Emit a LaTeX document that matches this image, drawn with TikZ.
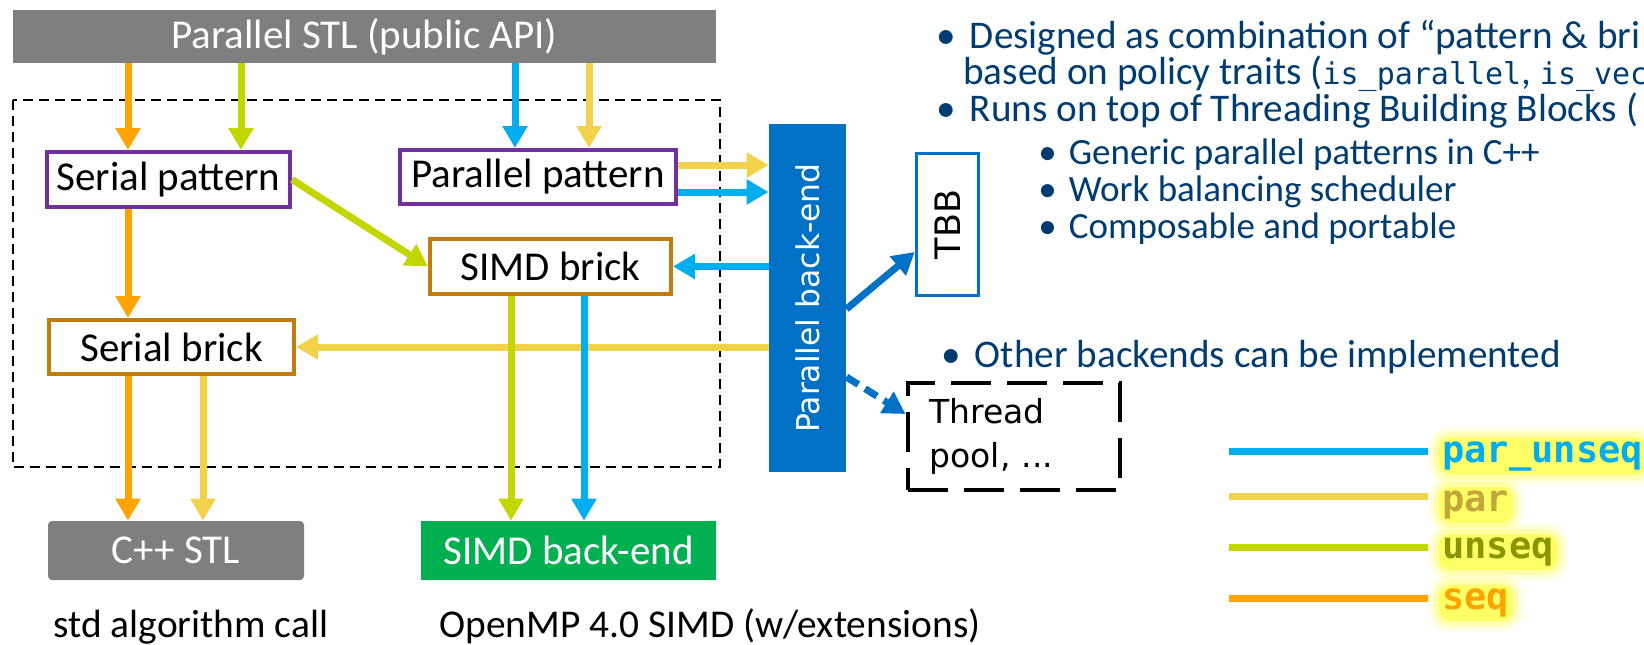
\documentclass[tikz,border=0pt]{standalone}
\usepackage{fontspec}
\setmainfont{Carlito}
\newfontfamily\verdfont{DejaVu Sans}
\newfontfamily\codefont{DejaVu Sans Mono}
\usetikzlibrary{arrows.meta}

\definecolor{seqc}{HTML}{FFA300}
\definecolor{unseqc}{HTML}{C4D600}
\definecolor{parc}{HTML}{F2D24B}
\definecolor{parunseqc}{HTML}{00AEEF}
\definecolor{purp}{HTML}{7030A0}
\definecolor{brickc}{HTML}{C27C0E}
\definecolor{greyc}{HTML}{7F7F7F}
\definecolor{greenc}{HTML}{00B050}
\definecolor{intelblue}{HTML}{0071C5}
\definecolor{textblue}{HTML}{003C71}
\definecolor{glow}{HTML}{FFFF66}

\tikzset{
  boxnode/.style={draw, line width=2pt, fill=white, inner sep=0pt, font=\fontsize{20.5}{22}\selectfont},
  patternbox/.style={boxnode, draw=purp},
  brickbox/.style={boxnode, draw=brickc},
  block/.style={inner sep=0pt, text=white, font=\fontsize{20.5}{22}\selectfont},
  flow/.style={line width=3.5pt, -{Triangle[width=12pt,length=11pt]}},
  seqflow/.style={flow, draw=seqc},
  unseqflow/.style={flow, draw=unseqc},
  parflow/.style={flow, draw=parc},
  puflow/.style={flow, draw=parunseqc},
  beflow/.style={flow, draw=intelblue},
  corebox/.style={draw, line width=0.8pt, dash pattern=on 5pt off 3pt},
  bullet/.style={anchor=base west, inner sep=0pt, text=textblue, text height=14pt, text depth=3pt,
    font=\fontsize{19.6}{22}\selectfont},
  subbullet/.style={bullet, font=\fontsize{18.5}{20}\selectfont},
  legline/.style={line width=3.5pt, preaction={draw=black!35, transform canvas={yshift=-1.5pt}}},
  legtext/.style={anchor=west, inner sep=2pt, font=\codefont\bfseries\fontsize{18.5}{20}\selectfont,
    fill=glow, rounded corners=6pt, preaction={draw=glow, line width=10pt, opacity=0.2},
    preaction={draw=glow, line width=5pt, opacity=0.4}}
}

\begin{document}
\begin{tikzpicture}[x=0.5pt, y=-0.5pt]
  \useasboundingbox (0,0) rectangle (1644,644);
  \clip (0,0) rectangle (1644,644);

  \draw[corebox] (13,100) rectangle (720,467);

  \node[block, fill=greyc, minimum width=351.5pt, minimum height=26.5pt] (api) at (364.5,36.5) {Parallel STL (public API)};
  \node[patternbox, minimum width=121.5pt, minimum height=27.5pt] (serpat) at (168.5,179.5) {Serial pattern};
  \node[patternbox, minimum width=138pt, minimum height=27pt] (parpat) at (538,177) {Parallel pattern};
  \node[brickbox, minimum width=120.5pt, minimum height=27.5pt] (simdbrick) at (550.5,266.5) {SIMD brick};
  \node[brickbox, minimum width=122.5pt, minimum height=27pt] (serbrick) at (171.5,347) {Serial brick};
  \node[block, fill=greyc, rounded corners=2pt, minimum width=128pt, minimum height=29.5pt] (cppstl) at (176,550.5) {C++ STL};
  \node[block, fill=greenc, minimum width=147.5pt, minimum height=29.5pt] (simdbe) at (568.5,550.5) {SIMD back-end};
  \node[block, fill=intelblue, rotate=90, minimum width=174pt, minimum height=38.5pt,
    font=\verdfont\fontsize{15.7}{17}\selectfont] (backend) at (807.5,298) {Parallel back-end};
  \node[draw=intelblue, line width=1.8pt, fill=white, rotate=90, inner sep=0pt, minimum width=71pt, minimum height=31pt,
    font=\verdfont\fontsize{17.5}{18}\selectfont] (tbb) at (947.5,224.5) {TBB};
  \node[draw, line width=2pt, dash pattern=on 20pt off 8pt, align=left, text width=84pt, inner xsep=11pt,
    minimum height=53.5pt, font=\verdfont\fontsize{16.5}{22}\selectfont] (pool) at (1013.5,436.5) {Thread\\pool, ...};

  \node[anchor=base, inner sep=0pt, font=\fontsize{19.7}{22}\selectfont] (stdcall) at (191,637) {std algorithm call};
  \node[anchor=base, inner sep=0pt, font=\fontsize{19.7}{22}\selectfont] (omp) at (710,637) {OpenMP 4.0 SIMD (w/extensions)};

  \coordinate (xseq) at (128,0);
  \coordinate (xunseq) at (241,0);
  \coordinate (xpu) at (515,0);
  \coordinate (xpar) at (589,0);
  \coordinate (xpartwo) at (203,0);
  \coordinate (xunseqtwo) at (511,0);
  \coordinate (xputwo) at (584,0);
  \coordinate (ypar) at (0,165);
  \coordinate (ypu) at (0,192);

  \draw[seqflow] (api.south -| xseq) -- (serpat.north -| xseq);
  \draw[unseqflow] (api.south -| xunseq) -- (serpat.north -| xunseq);
  \draw[puflow] (api.south -| xpu) -- (parpat.north -| xpu);
  \draw[parflow] (api.south -| xpar) -- (parpat.north -| xpar);
  \draw[seqflow] (serpat.south -| xseq) -- (serbrick.north -| xseq);
  \draw[unseqflow] (serpat.east) -- (simdbrick.west);
  \draw[parflow] (parpat.east |- ypar) -- (backend.north |- ypar);
  \draw[puflow] (parpat.east |- ypu) -- (backend.north |- ypu);
  \draw[puflow] (backend.north |- simdbrick.east) -- (simdbrick.east);
  \draw[parflow] (backend.north |- serbrick.east) -- (serbrick.east);
  \draw[seqflow] (serbrick.south -| xseq) -- (cppstl.north -| xseq);
  \draw[parflow] (serbrick.south -| xpartwo) -- (cppstl.north -| xpartwo);
  \draw[unseqflow] (simdbrick.south -| xunseqtwo) -- (simdbe.north -| xunseqtwo);
  \draw[puflow] (simdbrick.south -| xputwo) -- (simdbe.north -| xputwo);
  \draw[beflow] ([yshift=-5.5pt]backend.south) -- ([yshift=-13.75pt]tbb.north);
  \draw[beflow, dash pattern=on 7pt off 4pt] ([yshift=-39.5pt]backend.south) -- ([yshift=11.25pt]pool.west);

  \node[bullet] (b1) at (936,48) {•\hspace{7pt}Designed as combination of “pattern \& bri};
  \node[bullet] (b1b) at (963,84) {based on policy traits ({\codefont\fontsize{15}{16}\selectfont is\_parallel}, {\codefont\fontsize{15}{16}\selectfont is\_vec}};
  \node[bullet] (b2) at (936,121) {•\hspace{7pt}Runs on top of Threading Building Blocks (};
  \node[subbullet] (s1) at (1038,164) {•\hspace{6pt}Generic parallel patterns in C++};
  \node[subbullet] (s2) at (1038,201) {•\hspace{6pt}Work balancing scheduler};
  \node[subbullet] (s3) at (1038,238) {•\hspace{6pt}Composable and portable};
  \node[bullet] (b3) at (941,367) {•\hspace{7pt}Other backends can be implemented};

  \draw[legline, parunseqc] (1229,451) -- (1428,451);
  \draw[legline, parc] (1229,496) -- (1428,496);
  \draw[legline, unseqc] (1229,547) -- (1428,547);
  \draw[legline, seqc] (1229,598) -- (1428,598);
  \node[legtext, text=parunseqc] (lpu) at (1438,456) {par\_unseq};
  \node[legtext, text=parc!80!black] (lpar) at (1438,505) {par};
  \node[legtext, text=unseqc!70!black] (lunseq) at (1438,552) {unseq};
  \node[legtext, text=seqc] (lseq) at (1438,603) {seq};
\end{tikzpicture}
\end{document}
